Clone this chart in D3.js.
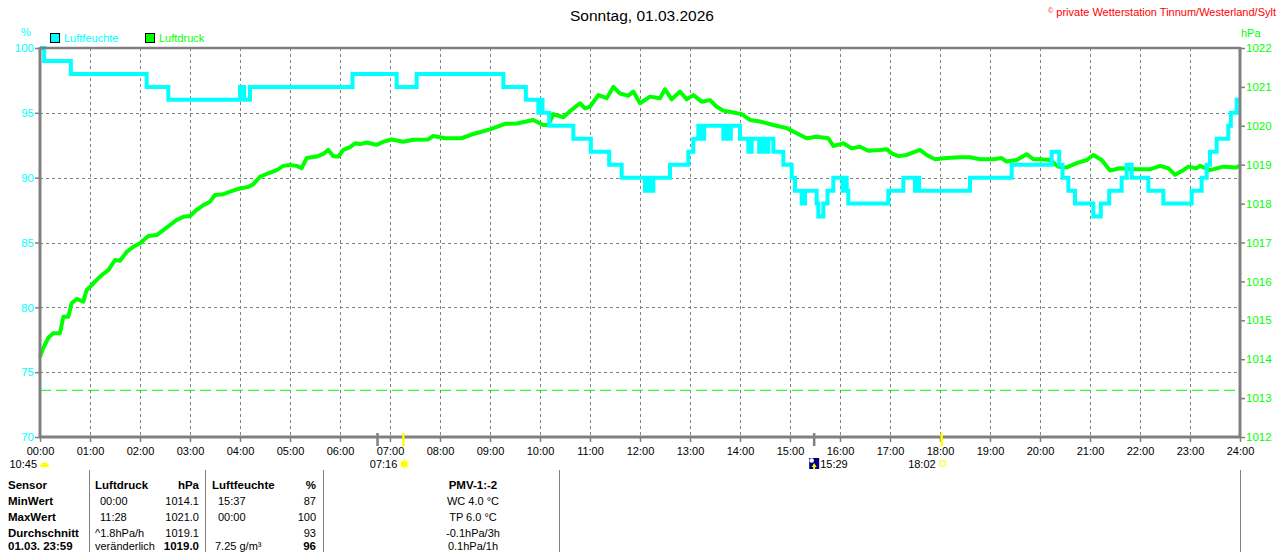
<!DOCTYPE html>
<html>

<head>
    <title>Sonntag, 01.03.2026</title>
    <meta http-equiv="Content-Type" content="text/html;charset=utf-8" />
    <script src="https://cdn.jsdelivr.net/npm/d3@7"></script>
    <style>
        html,
        body {
            margin: 0;
            padding: 0;
            background: #fff;
            overflow: hidden;
        }

        svg {
            display: block;
        }

        text {
            font-family: "Liberation Sans", Arial, sans-serif;
        }
    </style>
</head>

<body>
    <svg width="1280" height="552" id="mainsvg"></svg>
    <script>
        // ---- data ----
        // Luftdruck (hPa), minutes after midnight
        const pressTimes = [0, 4, 10, 16, 24, 28, 34, 38, 44, 52, 56, 60, 68, 74, 82, 90, 96, 104, 112, 120,
            130, 140, 148, 156, 164, 172, 180, 188, 196, 204, 210, 220, 228, 240, 250, 256, 264, 274, 284, 292,
            300, 308, 314, 320, 332, 340, 346, 352, 358, 364, 372, 378, 384, 392, 404, 412, 422, 436, 448, 466,
            472, 486, 506, 520, 540, 558, 572, 592, 604, 610, 616, 628, 638, 648, 654, 660, 670, 680, 688, 696,
            706, 712, 720, 732, 744, 750, 758, 768, 776, 784, 794, 804, 812, 820, 832, 842, 852, 864, 880, 896,
            908, 920, 932, 946, 952, 964, 974, 984, 994, 1008, 1016, 1022, 1030, 1040, 1056, 1064, 1074, 1088, 1104, 1116,
            1128, 1144, 1154, 1160, 1172, 1184, 1192, 1200, 1212, 1222, 1232, 1244, 1256, 1264, 1274, 1284, 1296, 1316, 1332, 1344,
            1354, 1362, 1372, 1378, 1388, 1392, 1404, 1420, 1436, 1439];
        const pressValues = [1014.06, 1014.29, 1014.55, 1014.67, 1014.67, 1015.09, 1015.09, 1015.44, 1015.55, 1015.48,
            1015.78, 1015.86, 1016.04, 1016.16, 1016.29, 1016.55, 1016.53, 1016.76, 1016.89, 1016.98,
            1017.17, 1017.19, 1017.32, 1017.45, 1017.58, 1017.66, 1017.68, 1017.84, 1017.96, 1018.05,
            1018.22, 1018.24, 1018.31, 1018.39, 1018.43, 1018.50, 1018.69, 1018.78, 1018.86, 1018.97,
            1018.99, 1018.97, 1018.91, 1019.17, 1019.21, 1019.28, 1019.38, 1019.22, 1019.21, 1019.38,
            1019.45, 1019.55, 1019.53, 1019.57, 1019.51, 1019.59, 1019.65, 1019.59, 1019.64, 1019.65,
            1019.74, 1019.68, 1019.68, 1019.79, 1019.91, 1020.05, 1020.06, 1020.15, 1020.02, 1020.02,
            1020.30, 1020.22, 1020.41, 1020.58, 1020.45, 1020.49, 1020.79, 1020.71, 1021.0, 1020.83,
            1020.77, 1020.88, 1020.58, 1020.75, 1020.71, 1020.94, 1020.68, 1020.88, 1020.68, 1020.79,
            1020.62, 1020.66, 1020.49, 1020.39, 1020.34, 1020.30, 1020.15, 1020.11, 1020.02, 1019.94,
            1019.81, 1019.68, 1019.72, 1019.68, 1019.48, 1019.55, 1019.42, 1019.46, 1019.36, 1019.38,
            1019.40, 1019.29, 1019.22, 1019.25, 1019.38, 1019.25, 1019.14, 1019.17, 1019.19, 1019.19,
            1019.14, 1019.14, 1019.17, 1019.08, 1019.12, 1019.27, 1019.14, 1019.14, 1019.12, 1018.95,
            1018.93, 1019.04, 1019.12, 1019.25, 1019.12, 1018.85, 1018.91, 1018.88, 1018.88, 1018.97,
            1018.91, 1018.74, 1018.86, 1018.95, 1018.91, 1018.97, 1018.86, 1018.95, 1018.93, 1018.98];

        // Luftfeuchte (%), value holds from this minute on (steps)
        const humTimes = [0, 5, 37, 128, 154, 240, 245, 252, 375, 428,
            452, 556, 583, 598, 601, 603, 611, 640, 661, 683,
            698, 726, 730, 734, 736, 756, 778, 784, 790, 793,
            797, 820, 823, 826, 829, 840, 850, 854, 863, 867,
            870, 874, 880, 892, 902, 906, 914, 918, 932, 934,
            940, 945, 952, 963, 966, 968, 970, 1018, 1036, 1050,
            1052, 1055, 1116, 1166, 1214, 1223, 1227, 1234, 1242, 1264,
            1273, 1283, 1298, 1304, 1310, 1330, 1348, 1382, 1394, 1400,
            1404, 1412, 1426, 1429, 1436, 1439];
        const humValues = [100, 99, 98, 97, 96, 97, 96, 97, 98, 97,
            98, 97, 96, 95, 96, 95, 94, 93, 92, 91,
            90, 89, 90, 89, 90, 91, 92, 93, 94, 93,
            94, 93, 94, 93, 94, 93, 92, 93, 92, 93,
            92, 93, 92, 91, 90, 89, 88, 89, 88, 87,
            88, 89, 90, 89, 90, 89, 88, 89, 90, 89,
            90, 89, 90, 91, 92, 91, 90, 89, 88, 87,
            88, 89, 90, 91, 90, 89, 88, 89, 90, 91,
            92, 93, 94, 95, 96, 96];

        const hourLabels = ['00:00', '01:00', '02:00', '03:00', '04:00', '05:00', '06:00', '07:00', '08:00',
            '09:00', '10:00', '11:00', '12:00', '13:00', '14:00', '15:00', '16:00', '17:00', '18:00',
            '19:00', '20:00', '21:00', '22:00', '23:00', '24:00'];
        const humTicks = [70, 75, 80, 85, 90, 95, 100];
        const pressTicks = [1012, 1013, 1014, 1015, 1016, 1017, 1018, 1019, 1020, 1021, 1022];
        const refPressure = 1013.2;

        // astro marks below the time axis
        const markTimes = ['06:45', '07:16', '15:29', '18:02'];
        const markKinds = ['dawn', 'sunrise', 'moon', 'sunset'];
        const astroLabels = ['10:45', '07:16', '15:29', '18:02'];
        const astroAt = ['00:00', '07:16', '15:29', '18:02'];
        const astroKinds = ['moonset', 'sunrise', 'moonrise', 'sunset'];

        // table below the chart
        const colSensor = ['Sensor', 'MinWert', 'MaxWert', 'Durchschnitt', '01.03. 23:59'];
        const colPressInfo = ['Luftdruck', '00:00', '11:28', '^1.8hPa/h', 'veränderlich'];
        const colPressVal = ['hPa', '1014.1', '1021.0', '1019.1', '1019.0'];
        const colHumInfo = ['Luftfeuchte', '15:37', '00:00', '', '7.25 g/m³'];
        const colHumVal = ['%', '87', '100', '93', '96'];
        const colExtra = ['PMV-1:-2', 'WC 4.0 °C', 'TP 6.0 °C', '-0.1hPa/3h', '0.1hPa/1h'];

        const toMin = s => +s.slice(0, 2) * 60 + +s.slice(3, 5);

        // ---- layout ----
        const svg = d3.select('svg');
        const width = +svg.attr('width');
        const height = +svg.attr('height');
        const margin = { top: 48, right: 40, bottom: 115, left: 40 };
        const innerWidth = width - margin.left - margin.right;
        const innerHeight = height - margin.top - margin.bottom;
        const gray = '#808080', cyan = '#00ffff', green = '#00ff00';
        const fs = '11px';

        const xScale = d3.scaleLinear().domain([0, 1440]).range([margin.left, margin.left + innerWidth]);
        const yHum = d3.scaleLinear().domain([70, 100]).range([margin.top + innerHeight, margin.top]);
        const yPress = d3.scaleLinear().domain([1012, 1022]).range([margin.top + innerHeight, margin.top]);
        const hourValues = hourLabels.map((d, i) => i * 60);

        // grid
        const grid = svg.append('g').attr('stroke', gray).attr('stroke-width', 1).attr('stroke-dasharray', '3,3');
        grid.selectAll('.vgrid').data(hourValues.slice(1, -1)).enter().append('line')
            .attr('x1', d => xScale(d) + 0.5).attr('x2', d => xScale(d) + 0.5)
            .attr('y1', margin.top).attr('y2', margin.top + innerHeight);
        grid.selectAll('.hgrid').data(humTicks.slice(1, -1)).enter().append('line')
            .attr('x1', margin.left).attr('x2', margin.left + innerWidth)
            .attr('y1', d => Math.round(yHum(d)) + 0.5).attr('y2', d => Math.round(yHum(d)) + 0.5);

        // normal pressure reference
        svg.append('line')
            .attr('x1', margin.left).attr('x2', margin.left + innerWidth)
            .attr('y1', yPress(refPressure)).attr('y2', yPress(refPressure))
            .attr('stroke', green).attr('stroke-width', 1).attr('stroke-dasharray', '11,5');

        // axes
        const xAxis = d3.axisBottom(xScale).tickValues(hourValues).tickFormat((d, i) => hourLabels[i])
            .tickSize(5).tickPadding(5);
        const yAxisL = d3.axisLeft(yHum).tickValues(humTicks).tickSize(5).tickPadding(1);
        const yAxisR = d3.axisRight(yPress).tickValues(pressTicks).tickFormat(d3.format('d'))
            .tickSize(5).tickPadding(1);

        const xAxisGroup = svg.append('g').attr('transform', `translate(0, ${margin.top + innerHeight})`).call(xAxis);
        const yAxisLGroup = svg.append('g').attr('transform', `translate(${margin.left}, 0)`).call(yAxisL);
        const yAxisRGroup = svg.append('g').attr('transform', `translate(${margin.left + innerWidth}, 0)`).call(yAxisR);
        [xAxisGroup, yAxisLGroup, yAxisRGroup].forEach(g => {
            g.attr('font-family', null).attr('font-size', null);
            g.select('.domain').remove();
            g.selectAll('.tick line').attr('stroke', gray).attr('stroke-width', 1.5);
            g.selectAll('.tick text').style('font-size', '11.5px');
        });
        xAxisGroup.selectAll('.tick text').attr('fill', 'black').style('font-size', fs);
        yAxisLGroup.selectAll('.tick text').attr('fill', cyan);
        yAxisRGroup.selectAll('.tick text').attr('fill', green);

        // series
        const pressData = pressTimes.map((t, i) => ({ t: t, v: pressValues[i] }));
        const humData = humTimes.map((t, i) => ({ t: t, v: humValues[i] }));

        svg.append('path').datum(pressData)
            .attr('fill', 'none').attr('stroke', green).attr('stroke-width', 4).attr('stroke-linejoin', 'round')
            .attr('d', d3.line().x(d => xScale(d.t)).y(d => yPress(d.v)));
        svg.append('path').datum(humData)
            .attr('fill', 'none').attr('stroke', cyan).attr('stroke-width', 4)
            .attr('d', d3.line().curve(d3.curveStepAfter).x(d => xScale(d.t)).y(d => yHum(d.v)));

        // frame
        const frame = svg.append('g').attr('stroke', gray).attr('stroke-width', 3);
        frame.append('line').attr('x1', margin.left).attr('x2', margin.left + innerWidth)
            .attr('y1', margin.top).attr('y2', margin.top).attr('stroke-width', 2.5);
        frame.append('line').attr('x1', margin.left - 1).attr('x2', margin.left + innerWidth + 1)
            .attr('y1', margin.top + innerHeight).attr('y2', margin.top + innerHeight);
        frame.append('line').attr('x1', margin.left).attr('x2', margin.left)
            .attr('y1', margin.top - 1).attr('y2', margin.top + innerHeight + 1);
        frame.append('line').attr('x1', margin.left + innerWidth).attr('x2', margin.left + innerWidth)
            .attr('y1', margin.top - 1).attr('y2', margin.top + innerHeight + 1);

        // astro tick marks on the time axis
        svg.selectAll('.mark').data(markTimes).enter().append('line')
            .attr('x1', d => xScale(toMin(d))).attr('x2', d => xScale(toMin(d)))
            .attr('y1', margin.top + innerHeight - 4).attr('y2', margin.top + innerHeight + 9)
            .attr('stroke', (d, i) => markKinds[i] === 'sunrise' || markKinds[i] === 'sunset' ? '#ffff00' : gray)
            .attr('stroke-width', 2.5);

        // astro labels + icons
        const astroY = margin.top + innerHeight + 31;
        astroAt.forEach((t, i) => {
            const x = xScale(toMin(t));
            const kind = astroKinds[i];
            const g = svg.append('g');
            if (kind === 'moonset') {
                const cx = x + 4.5;
                g.append('path').attr('fill', '#ffff00')
                    .attr('d', `M${cx - 4.5},${astroY - 1} A4.5,4.5 0 0 1 ${cx + 4.5},${astroY - 1} Z`);
                g.append('text').attr('x', x - 3).attr('y', astroY).attr('text-anchor', 'end')
                    .attr('font-size', fs).text(astroLabels[i]);
            } else if (kind === 'sunrise') {
                g.append('circle').attr('cx', x + 1).attr('cy', astroY - 4).attr('r', 3.5).attr('fill', '#ffff00');
                d3.range(8).forEach(k => {
                    const a = k * Math.PI / 4;
                    g.append('line').attr('stroke', '#ffff66').attr('stroke-width', 1)
                        .attr('x1', x + 1 + Math.cos(a) * 4).attr('y1', astroY - 4 + Math.sin(a) * 4)
                        .attr('x2', x + 1 + Math.cos(a) * 6).attr('y2', astroY - 4 + Math.sin(a) * 6);
                });
                g.append('text').attr('x', x - 6).attr('y', astroY).attr('text-anchor', 'end')
                    .attr('font-size', fs).text(astroLabels[i]);
            } else if (kind === 'moonrise') {
                g.append('rect').attr('x', x - 5).attr('y', astroY - 10).attr('width', 10).attr('height', 11)
                    .attr('fill', '#000080');
                g.append('circle').attr('cx', x - 2.5).attr('cy', astroY - 7.5).attr('r', 2.3).attr('fill', '#ffffff');
                g.append('path').attr('fill', '#ffff00')
                    .attr('d', `M${x},${astroY - 5} L${x + 2.5},${astroY - 1} L${x + 1},${astroY - 1} L${x + 1},${astroY + 1} L${x - 1},${astroY + 1} L${x - 1},${astroY - 1} L${x - 2.5},${astroY - 1} Z`);
                g.append('text').attr('x', x + 6).attr('y', astroY).attr('text-anchor', 'start')
                    .attr('font-size', fs).text(astroLabels[i]);
            } else {
                g.append('rect').attr('x', x - 1.5).attr('y', astroY - 7).attr('width', 5).attr('height', 5)
                    .attr('fill', 'none').attr('stroke', '#ffff00').attr('stroke-width', 1);
                g.append('text').attr('x', x - 6).attr('y', astroY).attr('text-anchor', 'end')
                    .attr('font-size', fs).text(astroLabels[i]);
            }
        });

        // titles, units, legend
        svg.append('text').attr('x', 642).attr('y', 21).attr('text-anchor', 'middle')
            .attr('font-size', '15.5px').attr('fill', 'black').text('Sonntag, 01.03.2026');
        const copy = svg.append('text').attr('x', 1276).attr('y', 16).attr('text-anchor', 'end')
            .attr('font-size', fs).attr('fill', '#ff0000');
        copy.append('tspan').attr('font-size', '7px').attr('dy', -3).text('©');
        copy.append('tspan').attr('dy', 3).text(' private Wetterstation Tinnum/Westerland/Sylt');

        svg.append('text').attr('x', 26).attr('y', 36).attr('text-anchor', 'middle')
            .attr('font-size', fs).attr('fill', cyan).text('%');
        svg.append('text').attr('x', 1241).attr('y', 37).attr('font-size', fs).attr('fill', green).text('hPa');

        const legendNames = ['Luftfeuchte', 'Luftdruck'];
        const legendColors = [cyan, green];
        const legendX = [50.5, 145.5];
        const legend = svg.selectAll('.legend').data(legendNames).enter().append('g');
        legend.append('rect').attr('x', (d, i) => legendX[i]).attr('y', 33.5).attr('width', 9).attr('height', 9)
            .attr('fill', (d, i) => legendColors[i]).attr('stroke', 'black').attr('stroke-width', 1);
        legend.append('text').attr('x', (d, i) => legendX[i] + 13.5).attr('y', 42)
            .attr('font-size', fs).attr('fill', (d, i) => legendColors[i]).text(d => d);

        // table
        const tableTop = 470;
        const rowY = i => 489 + i * 16;
        [89, 205, 323, 559, 1240].forEach(x => {
            svg.append('line').attr('x1', x + 0.5).attr('x2', x + 0.5).attr('y1', tableTop).attr('y2', height)
                .attr('stroke', gray).attr('stroke-width', 1);
        });
        const table = svg.append('g');
        const cell = (x, i, txt, anchor, bold) => {
            if (!txt) return;
            table.append('text').attr('x', x).attr('y', Math.min(rowY(i), 550)).attr('text-anchor', anchor)
                .attr('font-size', bold ? '11.5px' : fs).attr('font-weight', bold ? 'bold' : null)
                .attr('fill', 'black').text(txt);
        };
        const last = colSensor.length - 1;
        colSensor.forEach((t, i) => cell(8, i, t, 'start', true));
        colPressInfo.forEach((t, i) => cell(i === 1 || i === 2 ? 100 : 95, i, t, 'start', i === 0));
        colPressVal.forEach((t, i) => cell(199, i, t, 'end', i === 0 || i === last));
        colHumInfo.forEach((t, i) => cell(i === 0 ? 212 : (i === last ? 215 : 218), i, t, 'start', i === 0));
        colHumVal.forEach((t, i) => cell(316, i, t, 'end', i === 0 || i === last));
        colExtra.forEach((t, i) => cell(473, i, t, 'middle', i === 0));
    </script>
</body>

</html>
